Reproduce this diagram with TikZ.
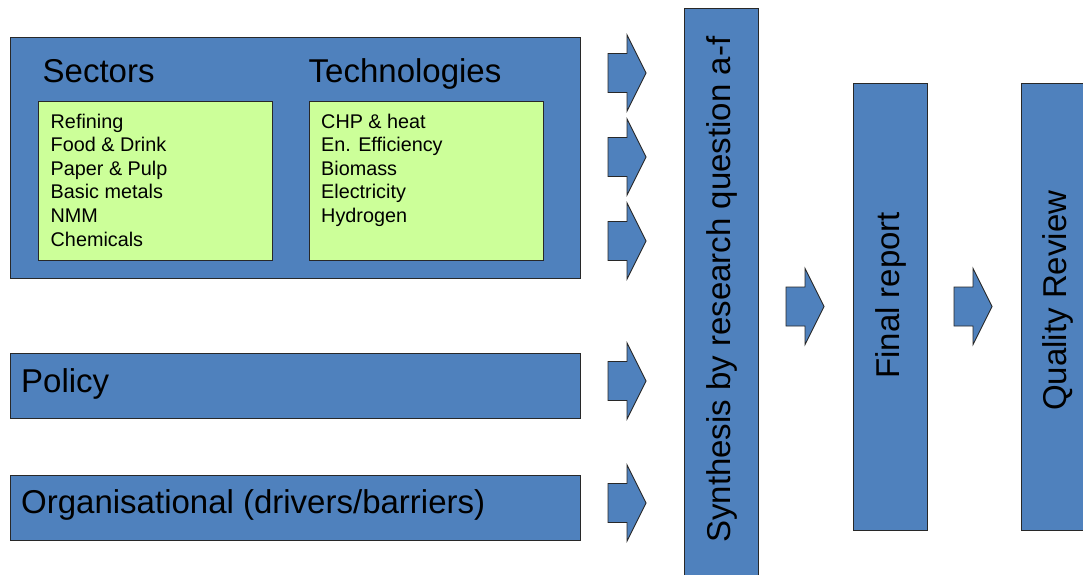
\documentclass[tikz,border=0pt]{standalone}
\usepackage{fontspec}
\setmainfont{Liberation Sans}
\definecolor{boxblue}{RGB}{79,129,189}
\definecolor{boxgreen}{RGB}{204,255,153}
\definecolor{edge}{RGB}{40,40,40}
\begin{document}
\begin{tikzpicture}[x=1pt,y=-1pt,
  bluebox/.style={draw=edge,line width=0.9pt,fill=boxblue,inner sep=0pt,anchor=north west},
  greenbox/.style={draw=edge,line width=0.9pt,fill=boxgreen,inner sep=0pt,anchor=north west},
  bigtext/.style={font=\fontsize{33}{39}\selectfont,inner sep=0pt,anchor=base west},
  listtext/.style={font=\fontsize{19.8}{23.6}\selectfont,inner sep=0pt,anchor=north west,align=left},
  vtext/.style={font=\fontsize{33}{39}\selectfont,inner sep=0pt,anchor=base west,rotate=90},
  arrowshape/.style={draw=edge,line width=0.9pt,fill=boxblue,line join=miter},
  blockarrow/.pic={\path[arrowshape] (0,-19.5) -- (19,-19.5) -- (19,-38) -- (38,0) -- (19,38) -- (19,19.5) -- (0,19.5) -- cycle;}
]
\useasboundingbox (0,0) rectangle (1083,574);
% left boxes
\node[bluebox,minimum width=570pt,minimum height=241pt] (main) at (10,37) {};
\node[greenbox,minimum width=234pt,minimum height=159pt] (sectbox) at (38,101) {};
\node[greenbox,minimum width=234pt,minimum height=159pt] (techbox) at (309,101) {};
\node[bigtext] (sectors) at (42.5,82) {Sectors};
\node[bigtext] (techs) at (308.5,82) {Technologies};
\node[listtext] (sectlist) at (50.5,113.5) {Refining\\Food \& Drink\\Paper \& Pulp\\Basic metals\\NMM\\Chemicals};
\node[listtext] (techlist) at (321,113.5) {CHP \& heat\\En. Efficiency\\Biomass\\Electricity\\Hydrogen};
\node[bluebox,minimum width=570pt,minimum height=65pt] (policy) at (10,353) {};
\node[bigtext] (policyt) at (21,392) {Policy};
\node[bluebox,minimum width=570pt,minimum height=65pt] (org) at (10,475) {};
\node[bigtext] (orgt) at (21,513) {Organisational (drivers/barriers)};
% right columns
\node[bluebox,minimum width=74pt,minimum height=590pt] (synth) at (684,8) {};
\node[vtext] (syntht) at (730,543) {Synthesis by research question a-f};
\node[bluebox,minimum width=74pt,minimum height=447pt] (final) at (853,83) {};
\node[vtext] (finalt) at (899,379) {Final report};
\node[bluebox,minimum width=80pt,minimum height=447pt] (quality) at (1021,83) {};
\node[vtext] (qualityt) at (1066,411) {Quality Review};
% block arrows
\pic (arr1) at (608,73) {blockarrow};
\pic (arr2) at (608,157) {blockarrow};
\pic (arr3) at (608,241) {blockarrow};
\pic (arr4) at (608,381) {blockarrow};
\pic (arr5) at (608,503) {blockarrow};
\pic (arr6) at (786,306.5) {blockarrow};
\pic (arr7) at (954,306.5) {blockarrow};
\end{tikzpicture}
\end{document}
